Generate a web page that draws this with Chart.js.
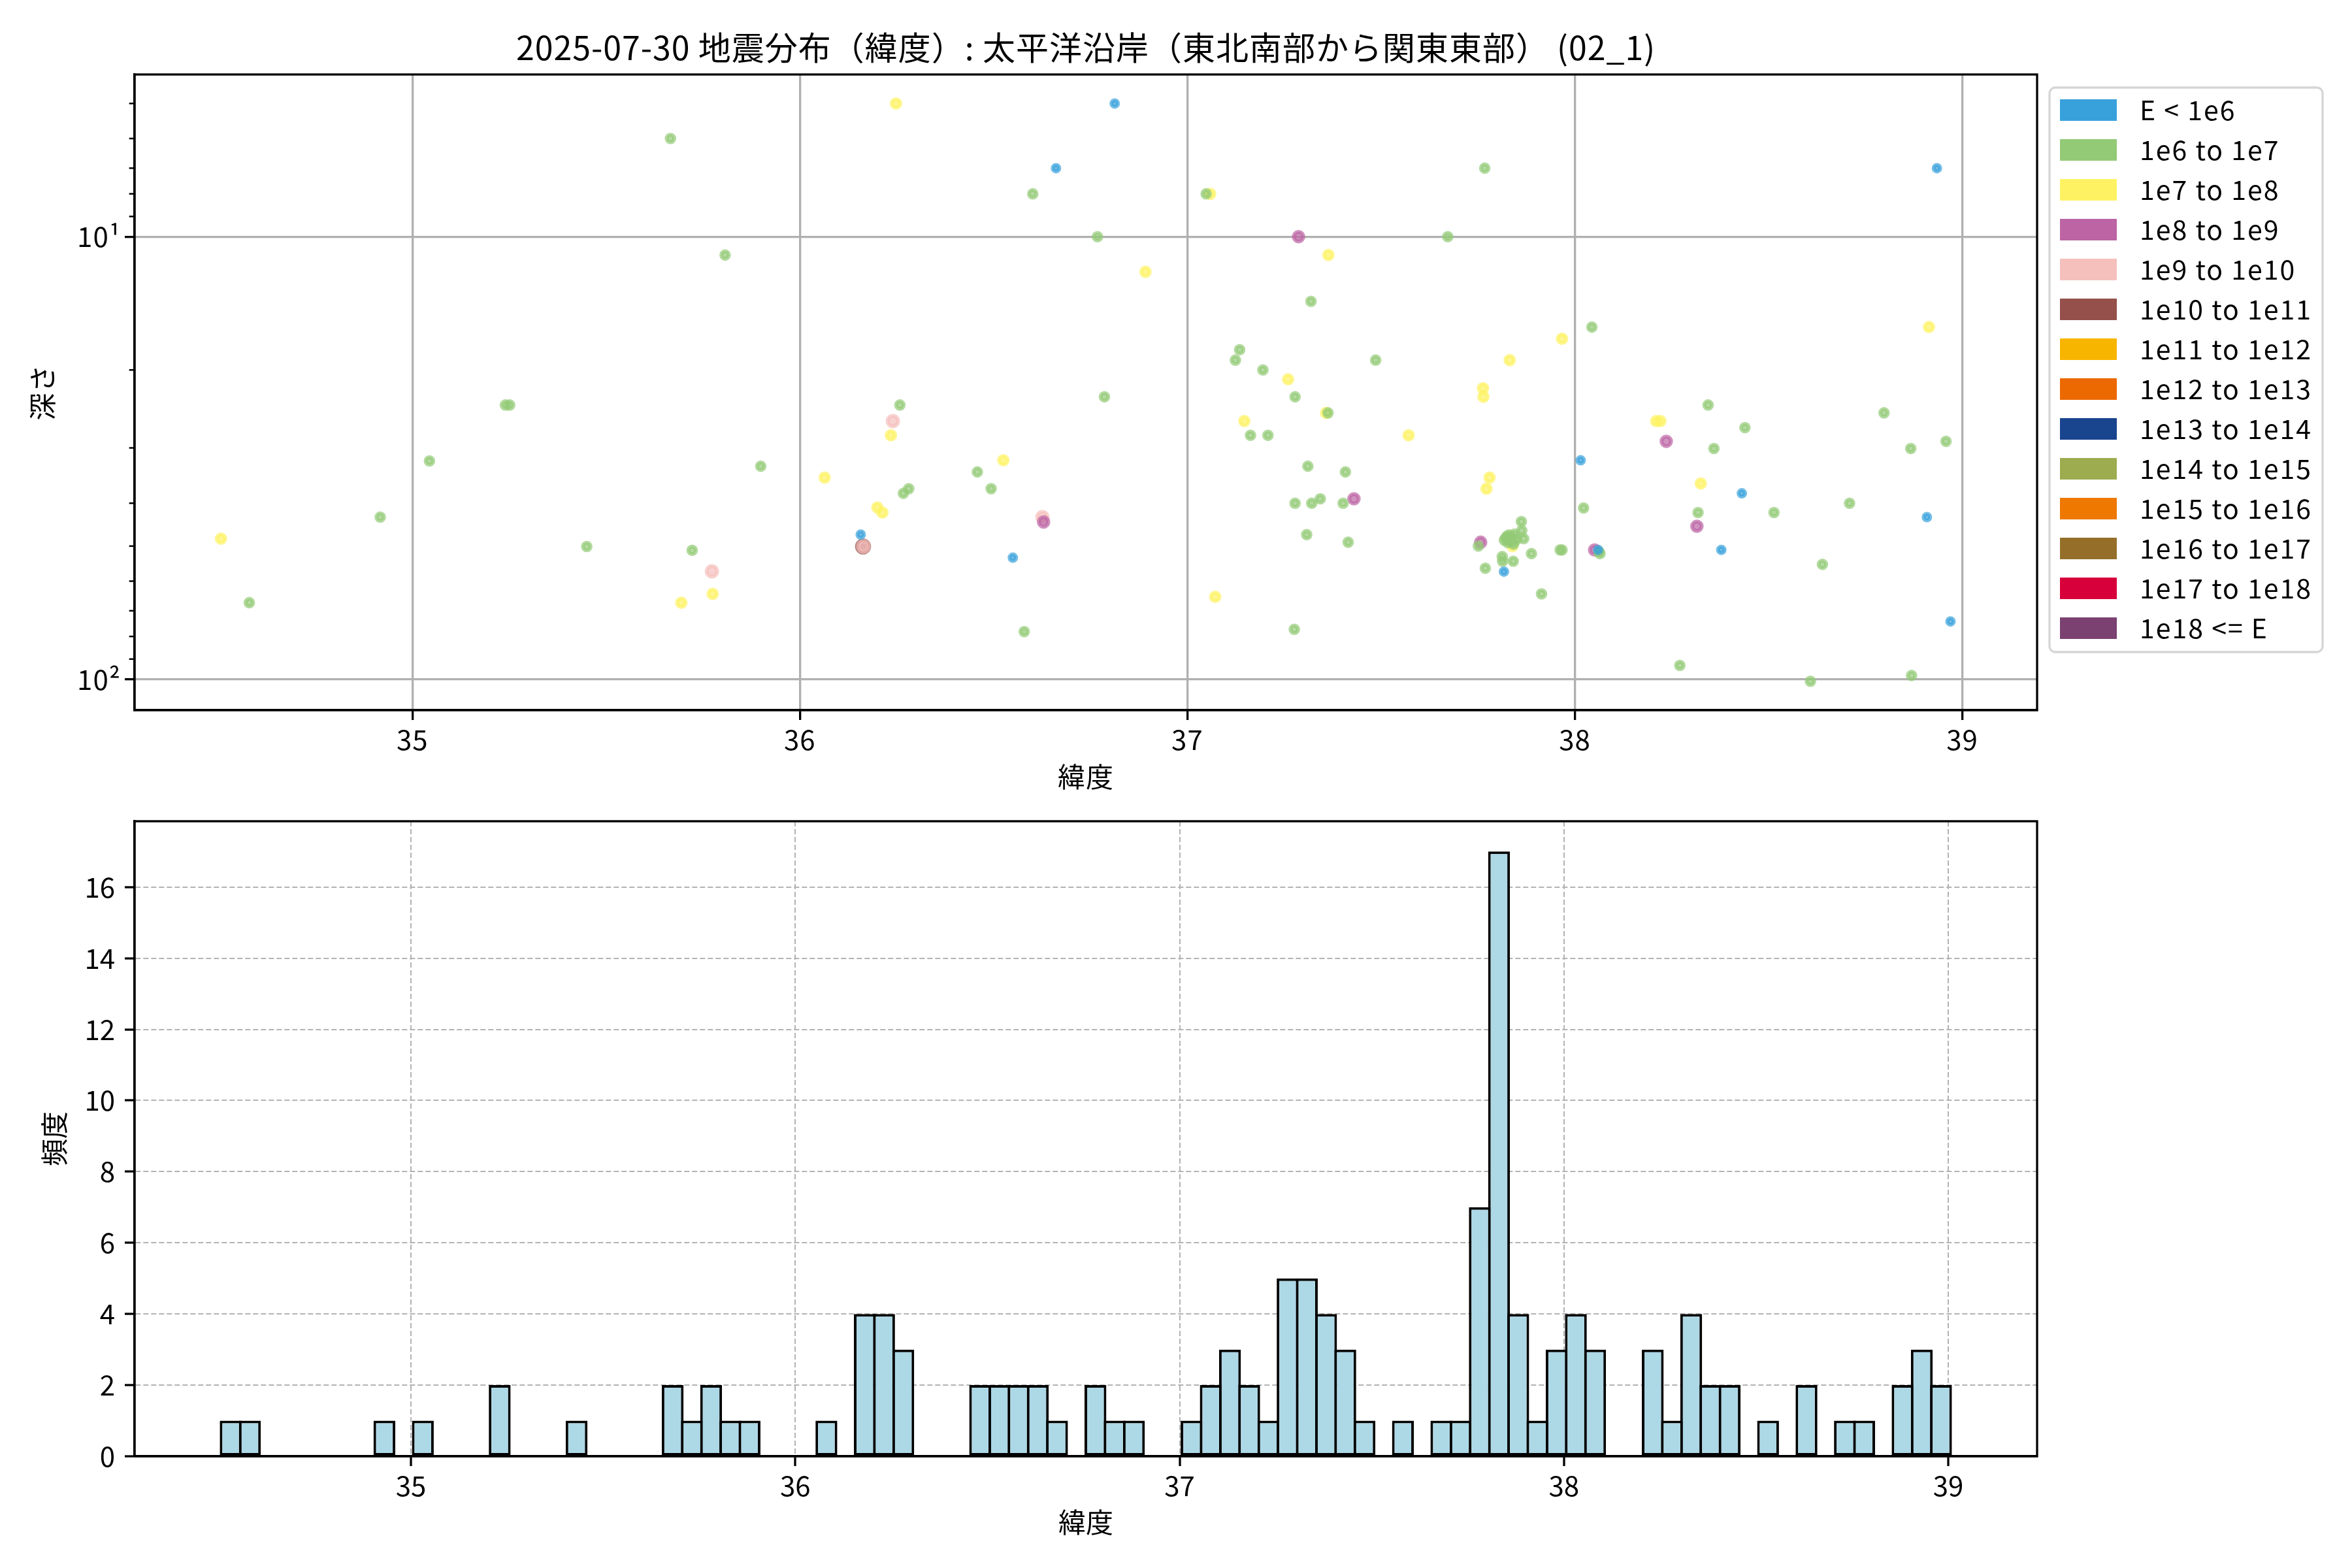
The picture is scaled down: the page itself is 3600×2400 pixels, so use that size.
<!DOCTYPE html>
<html>
<head>
<meta charset="utf-8">
<title>地震分布（緯度）</title>
<script src="https://cdn.jsdelivr.net/npm/chart.js@4.4.0/dist/chart.umd.min.js"></script>
<style>
  html, body { margin: 0; padding: 0; background: #fff; }
  #wrap { position: relative; width: 3600px; height: 2400px; }
  canvas { position: absolute; left: 0; }
  #scatter { top: 0; }
  #hist { top: 1240px; }
</style>
</head>
<body>
<div id="wrap">
  <canvas id="scatter" width="3600" height="1240"></canvas>
  <canvas id="hist" width="3600" height="1160"></canvas>
</div>
<script>
const TITLE = "2025-07-30 地震分布（緯度）: 太平洋沿岸（東北南部から関東東部） (02_1)";

// energy classes (legend order)
const energyLabels = [
  "E < 1e6", "1e6 to 1e7", "1e7 to 1e8", "1e8 to 1e9", "1e9 to 1e10",
  "1e10 to 1e11", "1e11 to 1e12", "1e12 to 1e13", "1e13 to 1e14",
  "1e14 to 1e15", "1e15 to 1e16", "1e16 to 1e17", "1e17 to 1e18", "1e18 <= E"
];
const energyColors = [
  "#38a1db", "#93ca76", "#fef263", "#bc64a4", "#f5bfbc",
  "#95504c", "#f8b500", "#ec6800", "#19448e",
  "#9cac4f", "#ee7800", "#956f29", "#d7003a", "#7a4171"
];

// each quake: latitude, depth (km), energy class index
const quakeLat = [
  34.506, 34.579, 34.917, 35.044, 35.240, 35.251, 35.450, 35.666, 35.694, 35.722,
  35.773, 35.775, 35.807, 35.899, 36.064, 36.157, 36.163, 36.164, 36.200, 36.213,
  36.235, 36.240, 36.248, 36.258, 36.267, 36.281, 36.458, 36.4935, 36.525, 36.5496,
  36.579, 36.601, 36.626, 36.629, 36.661, 36.768, 36.786, 36.8125, 36.892, 37.0485,
  37.059, 37.072, 37.124, 37.135, 37.147, 37.163, 37.195, 37.208, 37.260, 37.276,
  37.278, 37.278, 37.287, 37.308, 37.311, 37.319, 37.321, 37.343, 37.358, 37.363,
  37.364, 37.402, 37.408, 37.415, 37.430, 37.486, 37.571, 37.672, 37.751, 37.757,
  37.763, 37.764, 37.7675, 37.769, 37.772, 37.780, 37.8127, 37.8135, 37.817, 37.818,
  37.821, 37.825, 37.827, 37.830, 37.832, 37.832, 37.835, 37.838, 37.839, 37.841,
  37.842, 37.844, 37.849, 37.862, 37.863, 37.868, 37.888, 37.914, 37.962, 37.967,
  37.967, 38.015, 38.0226, 38.044, 38.051, 38.060, 38.062, 38.065, 38.210, 38.221,
  38.236, 38.271, 38.315, 38.318, 38.325, 38.344, 38.359, 38.378, 38.431, 38.439,
  38.514, 38.608, 38.639, 38.709, 38.798, 38.867, 38.869, 38.9086, 38.914, 38.9345,
  38.958, 38.9695
];
const quakeDepth = [
  48.1, 67.1, 43.0, 32.1, 24.0, 24.0, 50.1, 6.0, 67.1, 51.1,
  57.0, 64.1, 11.0, 33.0, 35.0, 47.1, 50.1, 50.1, 40.9, 42.0,
  28.1, 26.1, 5.0, 24.0, 38.0, 37.1, 34.0, 37.1, 32.0, 53.1,
  78.0, 8.0, 43.0, 44.1, 7.0, 10.0, 23.0, 5.0, 12.0, 8.0,
  8.0, 65.1, 19.0, 18.0, 26.1, 28.1, 20.0, 28.1, 21.0, 77.1,
  23.0, 40.0, 10.0, 47.1, 33.0, 14.0, 40.0, 39.1, 25.0, 25.0,
  11.0, 40.0, 34.0, 49.0, 39.1, 19.0, 28.1, 10.0, 50.0, 49.0,
  22.0, 23.0, 7.0, 56.1, 37.1, 35.0, 52.8, 54.1, 57.1, 48.5,
  48.0, 47.5, 49.1, 47.2, 19.0, 48.5, 47.7, 48.8, 50.0, 54.1,
  49.5, 47.0, 48.3, 44.0, 46.1, 48.1, 52.0, 64.1, 51.0, 51.0,
  17.0, 32.0, 41.0, 16.0, 51.0, 51.0, 51.5, 52.0, 26.1, 26.1,
  29.0, 93.0, 45.1, 42.0, 36.1, 24.0, 30.1, 51.0, 38.0, 27.0,
  42.0, 101.0, 55.0, 40.0, 25.0, 30.1, 98.0, 43.0, 16.0, 7.0,
  29.0, 74.0
];
const quakeClass = [
  2, 1, 1, 1, 1, 1, 1, 1, 2, 1,
  4, 2, 1, 1, 2, 0, 5, 4, 2, 2,
  2, 4, 2, 1, 1, 1, 1, 1, 2, 0,
  1, 1, 4, 3, 0, 1, 1, 0, 2, 1,
  2, 2, 1, 1, 2, 1, 1, 1, 2, 1,
  1, 1, 3, 1, 1, 1, 1, 1, 2, 1,
  2, 1, 1, 1, 3, 1, 2, 1, 1, 3,
  2, 2, 1, 1, 2, 2, 1, 1, 0, 1,
  1, 1, 1, 1, 2, 1, 1, 1, 2, 1,
  1, 1, 1, 1, 1, 1, 1, 1, 1, 1,
  2, 0, 1, 1, 3, 0, 1, 1, 2, 2,
  3, 1, 3, 1, 2, 1, 1, 0, 0, 1,
  1, 1, 1, 1, 1, 1, 1, 0, 2, 0,
  1, 0
];

// histogram: 90 bins of 0.05 degree starting at the southernmost quake
const binStart = 34.506;
const binWidth = 0.05;
const binCounts = [
  1, 1, 0, 0, 0, 0, 0, 0, 1, 0,
  1, 0, 0, 0, 2, 0, 0, 0, 1, 0,
  0, 0, 0, 2, 1, 2, 1, 1, 0, 0,
  0, 1, 0, 4, 4, 3, 0, 0, 0, 2,
  2, 2, 2, 1, 0, 2, 1, 1, 0, 0,
  1, 2, 3, 2, 1, 5, 5, 4, 3, 1,
  0, 1, 0, 1, 1, 7, 17, 4, 1, 3,
  4, 3, 0, 0, 3, 1, 4, 2, 2, 0,
  1, 0, 2, 0, 1, 1, 0, 2, 3, 2
];

const latTicks = [35, 36, 37, 38, 39];
const depthMajor = [10, 100];
const depthMinor = [5, 6, 7, 8, 9, 20, 30, 40, 50, 60, 70, 80, 90];
const countTicks = [0, 2, 4, 6, 8, 10, 12, 14, 16];

// marker radius per energy class (px)
const dotRadius = [5, 5.8, 6.5, 7.3, 8, 9.3, 10, 10.7, 11.4, 12.1, 12.8, 13.5, 14.2, 15];

Chart.defaults.font.family = "'Noto Sans CJK JP', 'Noto Sans', sans-serif";
Chart.defaults.font.size = 42;
Chart.defaults.color = "#000";

function withAlpha(hex, a) {
  const n = parseInt(hex.slice(1), 16);
  return `rgba(${n >> 16},${(n >> 8) & 255},${n & 255},${a})`;
}

// slightly wider title text, normal spacing for the rest
const titleSpacing = {
  id: "titleSpacing",
  beforeDraw(chart) { chart.ctx.letterSpacing = "1px"; },
  beforeDatasetsDraw(chart) { chart.ctx.letterSpacing = "0px"; }
};

// draw the black box round the plot area
const frame = {
  id: "frame",
  afterDraw(chart) {
    const { ctx, chartArea: a } = chart;
    ctx.save();
    ctx.strokeStyle = "#000";
    ctx.lineWidth = 3.3;
    ctx.strokeRect(a.left, a.top, a.right - a.left, a.bottom - a.top);
    ctx.restore();
  }
};

// short minor ticks on the log depth axis
const minorTicks = {
  id: "minorTicks",
  afterDraw(chart) {
    const { ctx, chartArea } = chart;
    const yScale = chart.scales.y;
    ctx.save();
    ctx.strokeStyle = "#000";
    ctx.lineWidth = 2.5;
    depthMinor.forEach(v => {
      const py = yScale.getPixelForValue(v);
      ctx.beginPath();
      ctx.moveTo(chartArea.left - 8.3, py);
      ctx.lineTo(chartArea.left, py);
      ctx.stroke();
    });
    ctx.restore();
  }
};

// legend panel to the right of the scatter plot
const legendPanel = {
  id: "legendPanel",
  afterDraw(chart) {
    const ctx = chart.ctx;
    const left = chart.chartArea.right + 19;
    ctx.save();
    ctx.beginPath();
    ctx.roundRect(left, 134, 418, 864, 9);
    ctx.fillStyle = "rgba(255,255,255,0.8)";
    ctx.fill();
    ctx.strokeStyle = "#d6d6d6";
    ctx.lineWidth = 3.3;
    ctx.stroke();
    ctx.font = "41px 'Noto Sans CJK JP'";
    ctx.letterSpacing = "2px";
    ctx.textBaseline = "middle";
    chart.data.datasets.forEach((ds, i) => {
      const cy = 168.5 + i * 61;
      ctx.fillStyle = energyColors[i];
      ctx.fillRect(left + 16, cy - 16.5, 87, 33);
      ctx.fillStyle = "#000";
      ctx.fillText(ds.label, left + 138, cy);
    });
    ctx.restore();
  }
};

const scatterSets = energyLabels.map((label, k) => ({
  label,
  data: quakeLat
    .map((x, i) => ({ x, y: quakeDepth[i], c: quakeClass[i] }))
    .filter(p => p.c === k),
  pointBackgroundColor: withAlpha(energyColors[k], 0.7),
  pointBorderColor: withAlpha(energyColors[k], 0.7),
  pointBorderWidth: 6,
  pointRadius: dotRadius[k],
  pointHoverRadius: dotRadius[k]
}));

new Chart(document.getElementById("scatter"), {
  type: "scatter",
  data: { datasets: scatterSets },
  options: {
    responsive: false,
    animation: false,
    devicePixelRatio: 1,
    layout: { padding: { left: 0, top: 0, right: 482, bottom: 0 } },
    plugins: {
      legend: { display: false },
      tooltip: { enabled: false },
      title: {
        display: true,
        text: TITLE,
        fullSize: false,
        color: "#000",
        font: { size: 50, weight: "normal" },
        padding: { top: 43, bottom: 11 }
      }
    },
    scales: {
      x: {
        type: "linear",
        min: 34.283,
        max: 39.193,
        z: 1,
        afterBuildTicks: s => { s.ticks = latTicks.map(v => ({ value: v })); },
        afterFit: s => { s.height = 153; },
        grid: { color: "#b0b0b0", lineWidth: 3.3, tickLength: 15, tickWidth: 3.3, tickColor: "#000" },
        border: { color: "#000", width: 3.3 },
        ticks: { padding: 5, callback: v => String(v) },
        title: { display: true, text: "緯度", padding: { top: 0, bottom: 26 } }
      },
      y: {
        type: "logarithmic",
        reverse: true,
        min: 4.30,
        max: 117.4,
        z: 1,
        afterBuildTicks: s => { s.ticks = depthMajor.map(v => ({ value: v })); },
        afterFit: s => { s.width = 206; s.paddingTop = 0; s.paddingBottom = 0; },
        grid: { color: "#b0b0b0", lineWidth: 3.3, tickLength: 15, tickWidth: 3.3, tickColor: "#000" },
        border: { color: "#000", width: 3.3 },
        ticks: { padding: 6, callback: v => (v === 10 ? "10¹" : v === 100 ? "10²" : "") },
        title: { display: true, text: "深さ", padding: { top: 40, bottom: 0 } }
      }
    }
  },
  plugins: [titleSpacing, minorTicks, frame, legendPanel]
});

const binCenters = binCounts.map((_, i) => binStart + binWidth * (i + 0.5));

new Chart(document.getElementById("hist"), {
  type: "bar",
  data: {
    datasets: [{
      data: binCounts.map((c, i) => ({ x: binCenters[i], y: c })),
      backgroundColor: "#add8e6",
      borderColor: "#000",
      borderWidth: 4,
      borderSkipped: false,
      categoryPercentage: 1,
      barPercentage: 1.136
    }]
  },
  options: {
    responsive: false,
    animation: false,
    devicePixelRatio: 1,
    layout: { padding: { left: 0, top: 17, right: 482, bottom: 0 } },
    plugins: { legend: { display: false }, tooltip: { enabled: false } },
    scales: {
      x: {
        type: "linear",
        min: 34.281,
        max: 39.231,
        offset: false,
        z: 1,
        afterBuildTicks: s => { s.ticks = latTicks.map(v => ({ value: v })); },
        afterFit: s => { s.height = 171; s.paddingLeft = 0; s.paddingRight = 0; },
        grid: { offset: false, color: "#b3b3b3", lineWidth: 2, tickLength: 15, tickWidth: 3.3, tickColor: "#000" },
        border: { color: "#000", width: 3.3, dash: [8, 4] },
        ticks: { padding: 5, callback: v => String(v) },
        title: { display: true, text: "緯度", padding: { top: 0, bottom: 45 } }
      },
      y: {
        type: "linear",
        min: 0,
        max: 17.85,
        z: 1,
        afterBuildTicks: s => { s.ticks = countTicks.map(v => ({ value: v })); },
        afterFit: s => { s.width = 206; s.paddingTop = 0; s.paddingBottom = 0; },
        grid: { color: "#b3b3b3", lineWidth: 2, tickLength: 15, tickWidth: 3.3, tickColor: "#000" },
        border: { color: "#000", width: 3.3, dash: [8, 4] },
        ticks: { padding: 15 },
        title: { display: true, text: "頻度", padding: { top: 58, bottom: 0 } }
      }
    }
  },
  plugins: [frame]
});
</script>
</body>
</html>
